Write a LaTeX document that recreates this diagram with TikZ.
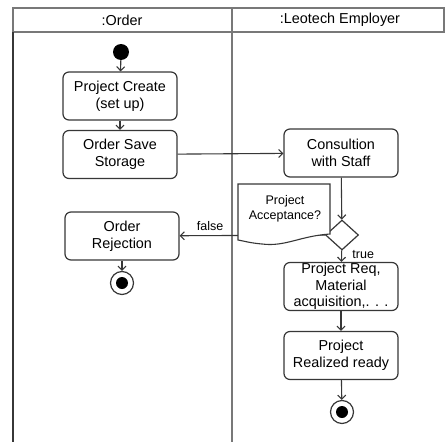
\documentclass[tikz,border=0pt]{standalone}
\usepackage{fontspec}
\setmainfont{Liberation Sans}
\usetikzlibrary{arrows.meta,shapes.geometric}
\definecolor{lanegray}{RGB}{120,120,120}
\definecolor{edge}{RGB}{55,55,55}

\begin{document}
\begin{tikzpicture}[x=1pt, y=-1pt,
    act/.style={rectangle, rounded corners=6pt, draw=edge, line width=1.2pt,
              fill=white, minimum width=114pt, minimum height=48pt,
              inner sep=0pt, align=center, font=\fontsize{14.4}{17}\selectfont},
    init/.style={circle, fill=black, minimum size=16pt, inner sep=0pt},
    final/.style={circle, draw=edge, line width=1.2pt, minimum size=23pt,
              inner sep=0pt, path picture={\fill[black]
              (path picture bounding box.center) circle (6pt);}},
    choice/.style={diamond, draw=edge, line width=1.2pt, fill=white,
              minimum width=33pt, minimum height=30pt, inner sep=0pt},
    hdr/.style={font=\fontsize{14.4}{17}\selectfont},
    lab/.style={font=\fontsize{12.5}{15}\selectfont},
    flow/.style={-{Straight Barb[length=4pt,width=8pt]}, draw=edge, line width=1.1pt},
    lane/.style={draw=lanegray, line width=1.3pt}]
  \useasboundingbox (0,0) rectangle (445,442);

  % ---------- swimlanes -----------------------------------------------------
  \draw[lane] (444,32) -- (444,8) -- (13,8) -- (13,32) -- cycle;
  \draw[lane, draw=edge] (13,32) -- (13,442);
  \draw[lane, line width=2pt] (232,8) -- (232,442);
  \node[hdr] (laneA) at (122,20) {:Order};
  \node[hdr] (laneB) at (340,20) {:Leotech Employer};

  % ---------- order lane ----------------------------------------------------
  \node[init] (start) at (121,52) {};
  \node[act] (create) at (120,96) {Project Create\\(set up)};
  \node[act] (save) at (120,154.5) {Order Save\\Storage};
  \node[act] (reject) at (122,236) {Order\\Rejection};
  \node[final] (endA) at (122,283) {};

  % ---------- employer lane -------------------------------------------------
  \node[act] (consult) at (341,153) {Consultion\\with Staff};
  \node[choice] (accept) at (342,235) {};
  \node[act, font=\fontsize{14.4}{16.5}\selectfont] (req) at (341,286.5)
    {Project Req,\\Material\\acquisition,. . .};
  \node[act] (done) at (341,355.5) {Project\\Realized ready};
  \node[final] (endB) at (342,412) {};

  % ---------- flows ---------------------------------------------------------
  \draw[flow] (start) -- (create);
  \draw[flow] (create) -- (save);
  \draw[flow] (save) -- (consult);
  \draw[flow] (consult) -- (accept);
  \draw[flow] (accept) -- node[lab, right=7pt, pos=0.4] {true} (req);
  \draw[flow] (accept) -- node[lab, above=1pt, pos=0.79] {false} (reject);
  \draw[flow] (reject) -- (endA);
  \draw[flow] (req) -- (done);
  \draw[flow] (done) -- (endB);

  % note on the decision
  \draw[edge, line width=1.1pt, fill=white] (238,184) -- (330,184) -- (330,234)
    .. controls (300,236) and (285,247) .. (262,244)
    .. controls (250,243) and (244,241) .. (238,240) -- cycle;
  \node[lab, align=center] (note) at (285,209) {Project\\Acceptance?};
\end{tikzpicture}
\end{document}
